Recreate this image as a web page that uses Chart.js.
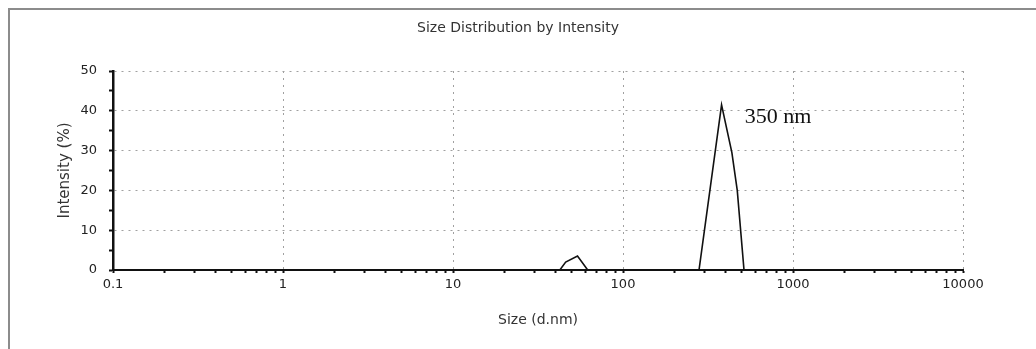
<!DOCTYPE html>
<html>
<head>
<meta charset="utf-8">
<title>Size Distribution by Intensity</title>
<script src="https://cdn.jsdelivr.net/npm/chart.js@4.4.1/dist/chart.umd.min.js"></script>
<style>
  html, body { margin: 0; padding: 0; background: #fff; }
  #wrap { position: relative; width: 1036px; height: 349px; }
  #frame {
    position: absolute; left: 8px; top: 8px; width: 1028px; height: 341px;
    border-top: 2px solid #8c8c8c; border-left: 2px solid #8c8c8c;
    box-sizing: border-box; pointer-events: none;
  }
  canvas { position: absolute; left: 0; top: 0; }
</style>
</head>
<body>
<div id="wrap">
  <canvas id="chart" width="1036" height="349"></canvas>
  <div id="frame"></div>
</div>
<script>
'use strict';

// ── DATA ────────────────────────────────────────────────────────────────────
const sizes     = [0.4, 1, 10, 42.5, 46, 54, 62, 100, 280, 380, 437, 470, 515, 1000, 10000];
const intensity = [0,   0, 0,  0,    2,  3.5, 0, 0,   0,   41.5, 29.5, 20, 0,  0,    0];

const decades      = [0.1, 1, 10, 100, 1000, 10000];
const xTickLabels  = ['0.1', '1', '10', '100', '1000', '10000'];
const yTickValues  = [0, 10, 20, 30, 40, 50];

const peakNote = { text: '350 nm', size: 520, value: 38.5 };

const FONT = 'DejaVu Sans, sans-serif';

function decadeIndex(v) {
  return decades.findIndex(d => Math.abs(v - d) / d < 1e-6);
}

// label drawn next to the main peak
const peakNotePlugin = {
  id: 'peakNote',
  afterDatasetsDraw(chart) {
    const { ctx, scales: { x, y } } = chart;
    ctx.save();
    ctx.font = '22px "Liberation Serif", "Times New Roman", serif';
    ctx.fillStyle = '#111';
    ctx.textAlign = 'left';
    ctx.textBaseline = 'middle';
    ctx.fillText(peakNote.text, x.getPixelForValue(peakNote.size), y.getPixelForValue(peakNote.value));
    ctx.restore();
  },
};

new Chart(document.getElementById('chart'), {
  type: 'line',
  data: {
    datasets: [{
      data: sizes.map((s, i) => ({ x: s, y: intensity[i] })),
      borderColor: '#111',
      borderWidth: 1.6,
      pointRadius: 0,
      tension: 0,
      fill: false,
    }],
  },
  options: {
    responsive: false,
    animation: false,
    layout: { padding: 0 },
    plugins: {
      legend: { display: false },
      tooltip: { enabled: false },
      title: {
        display: true,
        text: 'Size Distribution by Intensity',
        color: '#333',
        font: { family: FONT, size: 14, weight: 'normal' },
        padding: { top: 19.6, bottom: 34.6 },
      },
    },
    scales: {
      x: {
        type: 'logarithmic',
        min: 0.1,
        max: 10000,
        afterFit(scale) { scale.height = 79; },
        afterBuildTicks(scale) {
          const t = [];
          for (let i = 0; i < decades.length - 1; i++) {
            for (let k = 1; k <= 9; k++) t.push({ value: decades[i] * k });
          }
          t.push({ value: decades[decades.length - 1] });
          scale.ticks = t;
        },
        ticks: {
          autoSkip: false,
          maxRotation: 0,
          padding: 4,
          color: '#222',
          font: { family: FONT, size: 13 },
          callback(v) {
            const i = decadeIndex(v);
            return i >= 0 ? xTickLabels[i] : '';
          },
        },
        grid: {
          color: ctx => (ctx.tick && decadeIndex(ctx.tick.value) > 0) ? '#a0a0a0' : 'rgba(0,0,0,0)',
          lineWidth: 1,
          drawTicks: true,
          tickLength: 3,
          tickColor: '#111',
          tickWidth: 2,
        },
        border: { display: true, color: '#111', width: 2, dash: [2, 5] },
        title: {
          display: true,
          text: 'Size (d.nm)',
          color: '#333',
          font: { family: FONT, size: 14 },
          padding: { top: 0, bottom: 20.6 },
        },
      },
      y: {
        type: 'linear',
        min: 0,
        max: 50,
        afterFit(scale) { scale.width = 113; },
        ticks: {
          stepSize: 5,
          padding: 12,
          color: '#222',
          font: { family: FONT, size: 13 },
          callback: v => (yTickValues.includes(v) ? String(v) : ''),
        },
        grid: {
          color: ctx => (ctx.tick && ctx.tick.value > 0 && ctx.tick.value % 10 === 0) ? '#a0a0a0' : 'rgba(0,0,0,0)',
          lineWidth: 1,
          drawTicks: true,
          tickLength: 4,
          tickColor: '#111',
          tickWidth: 2,
        },
        border: { display: true, color: '#111', width: 2.5, dash: [2, 5] },
        title: {
          display: true,
          text: 'Intensity (%)',
          color: '#333',
          font: { family: FONT, size: 15 },
          padding: { top: 56, bottom: 0 },
        },
      },
      // empty right-hand strip so the plot stops where the scan's does
      yRight: {
        type: 'linear',
        position: 'right',
        min: 0,
        max: 50,
        afterFit(scale) { scale.width = 73; },
        ticks: { display: false },
        grid: { display: false, drawOnChartArea: false },
        border: { display: false },
        title: { display: false },
      },
    },
  },
  plugins: [peakNotePlugin],
});
</script>
</body>
</html>
